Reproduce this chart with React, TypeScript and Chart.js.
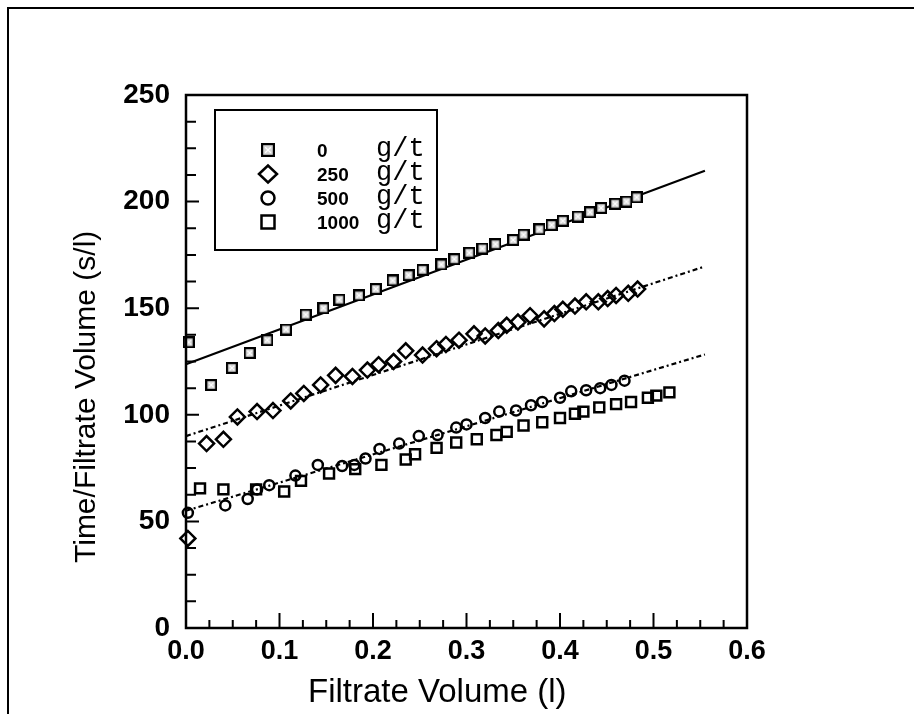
import React, { useEffect, useRef } from "react";
import { Chart, registerables } from "chart.js";

Chart.register(...registerables);

// ---------- data ----------
const X_TICK_VALUES = [0, 0.1, 0.2, 0.3, 0.4, 0.5, 0.6];
const Y_TICK_VALUES = [0, 50, 100, 150, 200, 250];
const LEGEND_DOSES = ["0", "250", "500", "1000"];
const UNIT = "g/t";
const X_TITLE = "Filtrate Volume (l)";
const Y_TITLE = "Time/Filtrate Volume (s/l)";

const X_0 = [0.003, 0.027, 0.049, 0.068, 0.087, 0.107, 0.128, 0.147, 0.164, 0.185, 0.203, 0.221, 0.238, 0.253, 0.273, 0.287, 0.303, 0.317, 0.331, 0.35, 0.361, 0.378, 0.391, 0.403, 0.419, 0.432, 0.444, 0.459, 0.471, 0.482];
const Y_0 = [134, 114, 122, 129, 135, 140, 147, 150, 154, 156, 159, 163, 165.5, 168, 170.5, 173, 176, 178, 180, 182, 184.5, 187, 189, 191, 193, 195, 197, 199, 200, 202];

const X_250 = [0.002, 0.022, 0.04, 0.055, 0.076, 0.093, 0.112, 0.126, 0.144, 0.16, 0.178, 0.194, 0.206, 0.222, 0.235, 0.253, 0.268, 0.278, 0.292, 0.308, 0.32, 0.334, 0.343, 0.355, 0.368, 0.383, 0.394, 0.403, 0.416, 0.428, 0.441, 0.451, 0.46, 0.473, 0.483];
const Y_250 = [42, 86.5, 88.5, 99, 101.5, 102, 106.5, 110, 114, 118.5, 118, 121, 123.5, 125, 130, 128, 131, 133, 135, 138, 137, 139.5, 142, 143.5, 146.5, 145, 147.5, 149.5, 151, 153, 153, 154.5, 156, 157, 159];

const X_500 = [0.002, 0.042, 0.066, 0.076, 0.089, 0.117, 0.141, 0.167, 0.18, 0.192, 0.207, 0.228, 0.249, 0.269, 0.289, 0.3, 0.32, 0.335, 0.353, 0.369, 0.381, 0.4, 0.412, 0.428, 0.443, 0.455, 0.469];
const Y_500 = [54, 57.5, 60.5, 65, 67, 71.5, 76.5, 76, 76.5, 79.5, 84, 86.5, 90, 90.5, 94, 95.5, 98.5, 101.5, 102, 104.5, 106, 108, 111, 111.5, 112.5, 114, 116];

const X_1000 = [0.015, 0.04, 0.075, 0.105, 0.123, 0.153, 0.181, 0.209, 0.235, 0.245, 0.268, 0.289, 0.311, 0.332, 0.343, 0.361, 0.381, 0.4, 0.416, 0.425, 0.442, 0.46, 0.476, 0.494, 0.503, 0.517];
const Y_1000 = [65.5, 65, 65, 64, 69, 72.5, 74.5, 76.5, 79, 81.5, 84.5, 87, 88.5, 90.5, 92, 95, 96.5, 98.5, 100.5, 101.5, 103.5, 105, 106, 108, 109, 110.5];

// fitted lines (end points)
const FIT_X = [0, 0.555];
const FIT_0_Y = [123.7, 214.5];
const FIT_250_Y = [90, 169.6];
const FIT_500_Y = [55, 128.3];

const zip = (xs: number[], ys: number[]) => xs.map((x, i) => ({ x, y: ys[i] }));

function makeHatchSquare(size: number) {
  const c = document.createElement("canvas");
  c.width = size;
  c.height = size;
  const g = c.getContext("2d")!;
  g.fillStyle = "#ffffff";
  g.fillRect(0, 0, size, size);
  g.fillStyle = "#d6d6d6";
  g.fillRect(2, 2, size - 4, size - 4);
  g.strokeStyle = "#000";
  g.lineWidth = 2.2;
  g.strokeRect(1.1, 1.1, size - 2.2, size - 2.2);
  g.strokeStyle = "#ffffff";
  g.lineWidth = 1.3;
  const m = size / 2;
  const d = size * 0.2;
  g.beginPath();
  g.moveTo(m - d, m - d);
  g.lineTo(m + d, m + d);
  g.moveTo(m + d, m - d);
  g.lineTo(m - d, m + d);
  g.stroke();
  return c;
}

export default function App() {
  const ref = useRef<HTMLCanvasElement | null>(null);

  useEffect(() => {
    const canvas = ref.current!;
    const hatchSmall = makeHatchSquare(12);
    const hatchBig = makeHatchSquare(14);
    const FONT = '"Liberation Sans", Arial, sans-serif';

    const decor = {
      id: "decor",
      beforeDraw(chart: any) {
        const ctx = chart.ctx;
        ctx.save();
        ctx.fillStyle = "#fff";
        ctx.fillRect(0, 0, chart.width, chart.height);
        ctx.strokeStyle = "#000";
        ctx.lineWidth = 2;
        ctx.beginPath();
        ctx.moveTo(8, chart.height);
        ctx.lineTo(8, 8);
        ctx.lineTo(chart.width, 8);
        ctx.stroke();
        ctx.restore();
      },
      afterDraw(chart: any) {
        const ctx = chart.ctx;
        const a = chart.chartArea;
        const xs = chart.scales.x;
        const ys = chart.scales.y;
        ctx.save();
        ctx.strokeStyle = "#000";
        ctx.lineWidth = 2.5;
        ctx.strokeRect(a.left, a.top, a.right - a.left, a.bottom - a.top);
        ctx.lineWidth = 2;
        ctx.beginPath();
        for (let i = 0; i <= 20; i++) {
          const v = i * 12.5;
          const py = ys.getPixelForValue(v);
          const len = i % 4 === 0 ? 13 : 10;
          ctx.moveTo(a.left, py);
          ctx.lineTo(a.left + len, py);
        }
        for (let i = 0; i <= 24; i++) {
          const v = i * 0.025;
          const px = xs.getPixelForValue(v);
          const len = i % 4 === 0 ? 15 : 8;
          ctx.moveTo(px, a.bottom);
          ctx.lineTo(px, a.bottom - len);
        }
        ctx.stroke();

        // axis titles
        ctx.fillStyle = "#000";
        ctx.textAlign = "left";
        ctx.textBaseline = "alphabetic";
        ctx.font = `33px ${FONT}`;
        ctx.fillText(X_TITLE, 308, 702);
        ctx.font = `30px ${FONT}`;
        ctx.save();
        ctx.translate(95, 563);
        ctx.rotate(-Math.PI / 2);
        ctx.fillText(Y_TITLE, 0, 0);
        ctx.restore();

        // legend
        const lx = 215, ly = 110, lw = 222, lh = 140;
        ctx.fillStyle = "#fff";
        ctx.fillRect(lx, ly, lw, lh);
        ctx.lineWidth = 2;
        ctx.strokeRect(lx, ly, lw, lh);
        const rows = [150, 174, 198, 222];
        const sx = 268;
        rows.forEach((cy, i) => {
          ctx.lineWidth = 2.5;
          ctx.strokeStyle = "#000";
          ctx.beginPath();
          if (i === 0) {
            ctx.drawImage(hatchBig, sx - 7, cy - 7, 14, 14);
          } else if (i === 1) {
            ctx.moveTo(sx - 9, cy);
            ctx.lineTo(sx, cy - 8.5);
            ctx.lineTo(sx + 9, cy);
            ctx.lineTo(sx, cy + 8.5);
            ctx.closePath();
            ctx.stroke();
          } else if (i === 2) {
            ctx.arc(sx, cy, 6.5, 0, Math.PI * 2);
            ctx.stroke();
          } else {
            ctx.rect(sx - 6.5, cy - 6.5, 13, 13);
            ctx.stroke();
          }
          ctx.fillStyle = "#000";
          ctx.font = `bold 19px ${FONT}`;
          ctx.fillText(LEGEND_DOSES[i], 317, cy + 7);
          ctx.font = `27px "Liberation Mono", "DejaVu Sans Mono", monospace`;
          ctx.fillText(UNIT, 376, cy + 6);
        });
        ctx.restore();
      },
    };

    const chart = new Chart(canvas, {
      type: "scatter",
      data: {
        datasets: [
          {
            label: "fit 0",
            data: zip(FIT_X, FIT_0_Y),
            showLine: true,
            borderColor: "#000",
            borderWidth: 2.2,
            pointRadius: 0,
            order: 5,
          },
          {
            label: "fit 250",
            data: zip(FIT_X, FIT_250_Y),
            showLine: true,
            borderColor: "#000",
            borderWidth: 2.2,
            borderDash: [5, 3, 2, 3],
            pointRadius: 0,
            order: 5,
          },
          {
            label: "fit 500",
            data: zip(FIT_X, FIT_500_Y),
            showLine: true,
            borderColor: "#000",
            borderWidth: 2.2,
            borderDash: [5, 3, 2, 3],
            pointRadius: 0,
            order: 5,
          },
          {
            label: "0 g/t",
            data: zip(X_0, Y_0),
            pointStyle: hatchSmall as any,
            pointRadius: 6,
            order: 1,
          },
          {
            label: "250 g/t",
            data: zip(X_250, Y_250),
            pointStyle: "rectRot",
            pointRadius: 7.5,
            borderColor: "#000",
            borderWidth: 2.5,
            backgroundColor: "rgba(255,255,255,0)",
            order: 1,
          },
          {
            label: "500 g/t",
            data: zip(X_500, Y_500),
            pointStyle: "circle",
            pointRadius: 5,
            borderColor: "#000",
            borderWidth: 2.5,
            backgroundColor: "rgba(255,255,255,0)",
            order: 1,
          },
          {
            label: "1000 g/t",
            data: zip(X_1000, Y_1000),
            pointStyle: "rect",
            pointRadius: 7,
            borderColor: "#000",
            borderWidth: 2.5,
            backgroundColor: "rgba(255,255,255,0)",
            order: 1,
          },
        ],
      },
      options: {
        animation: false,
        responsive: false,
        maintainAspectRatio: false,
        layout: { padding: { left: 0, top: 95, right: 167, bottom: 0 } },
        plugins: {
          legend: { display: false },
          tooltip: { enabled: false },
        },
        elements: { line: { tension: 0 } },
        datasets: { scatter: { clip: false } } as any,
        scales: {
          x: {
            type: "linear",
            min: 0,
            max: 0.6,
            afterFit: (s: any) => {
              s.height = 86;
            },
            afterBuildTicks: (s: any) => {
              s.ticks = X_TICK_VALUES.map((v) => ({ value: v }));
            },
            grid: { display: false, drawTicks: false },
            border: { display: false },
            ticks: {
              color: "#000",
              padding: 7,
              font: { family: FONT, size: 27, weight: "bold" },
              callback: (v: any) => Number(v).toFixed(1),
            },
          },
          y: {
            type: "linear",
            min: 0,
            max: 250,
            afterFit: (s: any) => {
              s.width = 186;
            },
            afterBuildTicks: (s: any) => {
              s.ticks = Y_TICK_VALUES.map((v) => ({ value: v }));
            },
            grid: { display: false, drawTicks: false },
            border: { display: false },
            ticks: {
              color: "#000",
              padding: 16,
              font: { family: FONT, size: 28, weight: "bold" },
              callback: (v: any) => String(v),
            },
          },
        },
      },
      plugins: [decor],
    } as any);
    return () => chart.destroy();
  }, []);

  return (
    <div style={{ position: "fixed", left: 0, top: 0, width: 914, height: 714, background: "#fff" }}>
      <canvas ref={ref} width={914} height={714} style={{ display: "block" }} />
    </div>
  );
}
